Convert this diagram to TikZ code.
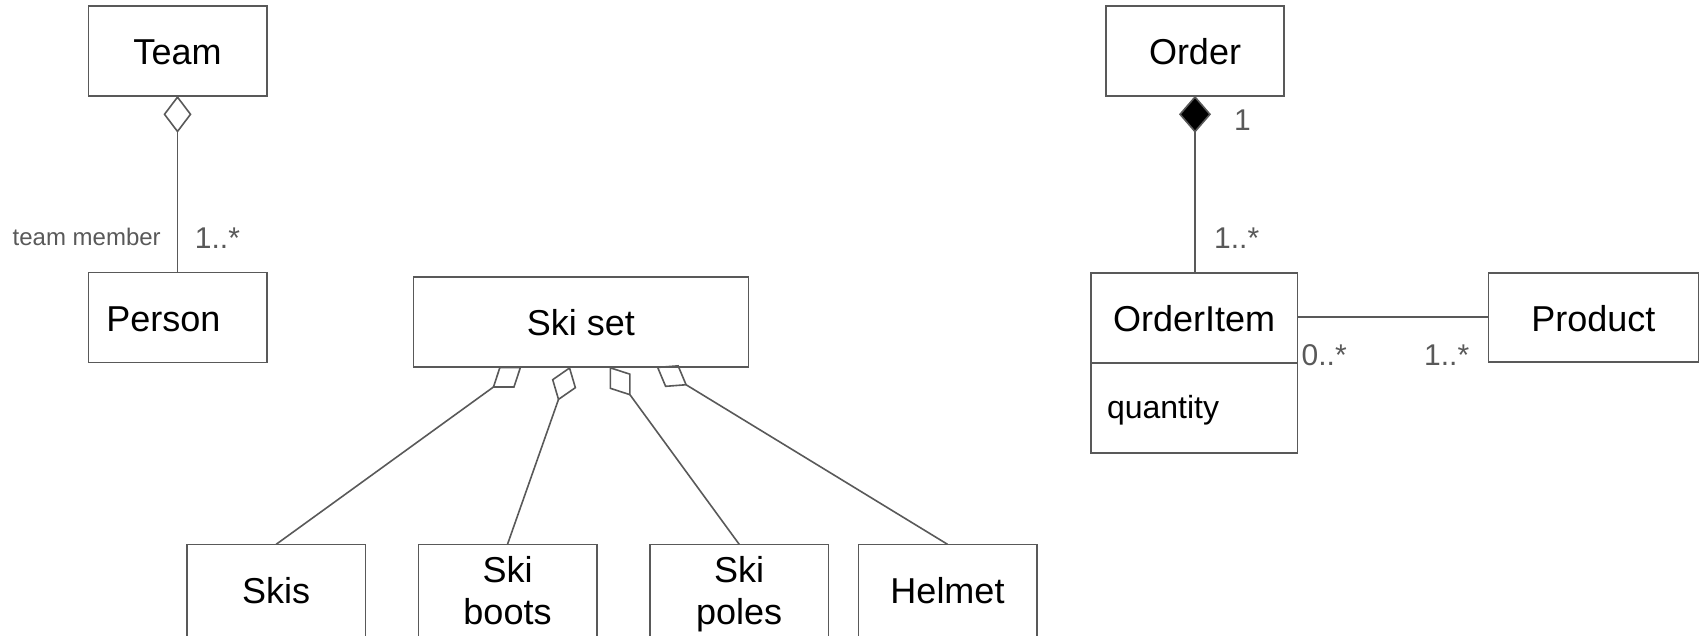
\documentclass[tikz,border=0pt]{standalone}
\usepackage{fontspec}
\setmainfont{Liberation Sans}
\usetikzlibrary{arrows.meta,calc}
\definecolor{linegray}{HTML}{595959}
\definecolor{labelgray}{HTML}{595959}
\begin{document}
\begin{tikzpicture}[x=1pt,y=-1pt,
  cls/.style={draw=linegray, fill=white, line width=1.6pt, inner sep=0pt, outer sep=0pt,
    minimum height=90pt, font=\fontsize{36}{42}\selectfont, text height=28pt, text depth=0pt},
  childbox/.style={cls, anchor=north, minimum width=178.4pt, minimum height=92pt, text height=26pt},
  mult/.style={text=labelgray, inner sep=0pt, anchor=base west, font=\fontsize{30}{36}\selectfont},
  conn/.style={draw=linegray, line width=1.6pt},
  agg/.style={conn, -{Diamond[open, length=36pt, width=26pt]}}]
\useasboundingbox (0,0) rectangle (1700,635);
\clip (0,0) rectangle (1700,635);

% Team / Person
\node[cls, minimum width=178.4pt] (team) at (177.5,50.8) {Team};
\node[cls, minimum width=178.4pt, text width=142.4pt, inner xsep=18pt, align=left] (person) at (177.5,317.5) {Person};

% Ski set and its parts
\node[cls, minimum width=335pt] (skiset) at (580.8,321.7) {Ski set};
\node[childbox] (skis) at (276.2,544.3) {Skis};
\node[childbox, text height=27pt, text depth=42pt] (boots) at (507.5,544.3)
  {\begin{tabular}[t]{@{}c@{}}Ski\\boots\end{tabular}};
\node[childbox, text height=27pt, text depth=42pt] (poles) at (739.2,544.3)
  {\begin{tabular}[t]{@{}c@{}}Ski\\poles\end{tabular}};
\node[childbox] (helmet) at (947.5,544.3) {Helmet};

% Order / OrderItem / Product
\node[cls, minimum width=178pt] (order) at (1195,50.8) {Order};
\node[cls, minimum width=206.3pt] (oitem) at (1194.2,317.7) {OrderItem};
\node[cls, anchor=north, minimum width=206.3pt, text width=174.3pt, inner xsep=16pt, align=left,
  font=\fontsize{32}{38}\selectfont, text height=21.2pt] (oattr) at (oitem.south) {quantity};
\node[cls, minimum width=210pt, minimum height=89pt] (product) at (1593.3,317.2) {Product};

% attachment points on the bottom of Ski set
\coordinate (pSkis) at ([xshift=108.2pt]skiset.south west);
\coordinate (pBoots) at ([xshift=156.7pt]skiset.south west);
\coordinate (pPoles) at ([xshift=196.2pt]skiset.south west);
\coordinate (pHelmet) at ([xshift=243.2pt]skiset.south west);

% connectors
\draw[conn, -{Diamond[open, length=37pt, width=28pt]}] (person.north) -- (team.south);
\draw[conn, -{Diamond[fill=black, length=37pt, width=32pt]}] (order.south |- oitem.north) -- (order.south);
\draw[conn] (oitem.east |- product.west) -- (product.west);
\draw[agg] (skis.north) -- (pSkis);
\draw[agg] (boots.north) -- (pBoots);
\draw[agg] (poles.north) -- (pPoles);
\draw[agg] (helmet.north) -- (pHelmet);

% labels
\node[mult, font=\fontsize{24}{28}\selectfont] (lblmember) at (12.5,245) {team member};
\node[mult] (mTeam) at (194.7,248) {1..*};
\node[mult] (mOrder) at (1234,130) {1};
\node[mult] (mItem) at (1214,248) {1..*};
\node[mult] (mItemProd) at (1301.5,365) {0..*};
\node[mult] (mProdItem) at (1424,365) {1..*};
\end{tikzpicture}
\end{document}
